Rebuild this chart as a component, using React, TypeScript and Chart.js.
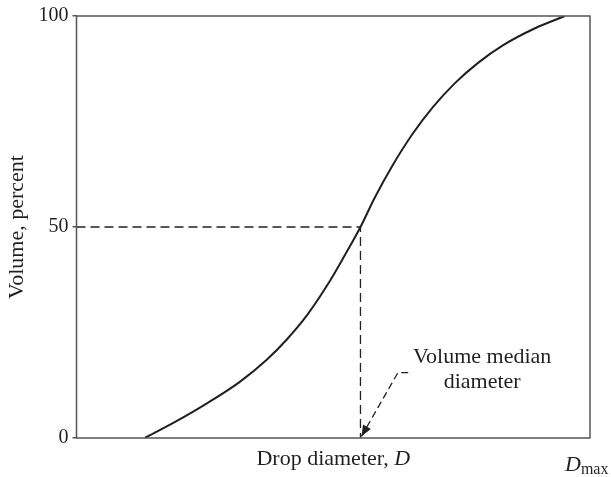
import React, { useEffect, useRef } from "react";
import { Chart, registerables } from "chart.js";

Chart.register(...registerables);

// Cumulative volume curve (x: drop diameter, 0..100 of axis width; y: volume percent)
const curveX = [13.3, 19.2, 25.4, 31.8, 37.1, 41.0, 44.9, 49.4, 52.3, 55.3, 58.1, 61.6, 65.3, 69.4, 73.7, 78.2, 83.1, 89.3, 95.1];
const curveY = [0, 3.8, 8.2, 13.3, 18.6, 23.4, 29.1, 37.3, 43.4, 50.0, 57.0, 64.7, 71.8, 78.4, 84.1, 88.9, 93.1, 97.1, 100];

// Median guide (dashed)
const medianX = [0, 55.3, 55.3];
const medianY = [50, 50, 0];

// Y ticks
const yTicks = [0, 50, 100];

// Annotation (data units)
const noteLines = ["Volume median", "diameter"];
const noteX = 79.0;
const noteY = [19.1, 13.2];
const arrowX = [64.6, 62.6, 55.5];
const arrowY = [15.5, 15.5, 0.4];

const xTitleMain = "Drop diameter, ";
const xTitleItalic = "D";
const dmaxMain = "D";
const dmaxSub = "max";
const yTitle = "Volume, percent";

const FONT = "'Liberation Serif', 'DejaVu Serif', serif";
const INK = "#231f20";

const decorPlugin = {
  id: "decor",
  afterDatasetsDraw(chart: any) {
    const { ctx, chartArea, scales } = chart;
    const xs = scales.x;
    const ys = scales.y;
    ctx.save();
    // frame
    ctx.strokeStyle = "#555";
    ctx.lineWidth = 1.5;
    ctx.strokeRect(chartArea.left, chartArea.top, chartArea.right - chartArea.left, chartArea.bottom - chartArea.top);

    // annotation text
    ctx.fillStyle = INK;
    ctx.font = `22px ${FONT}`;
    ctx.textAlign = "center";
    ctx.textBaseline = "middle";
    noteLines.forEach((t, i) => {
      ctx.fillText(t, xs.getPixelForValue(noteX), ys.getPixelForValue(noteY[i]));
    });

    // arrow (dashed)
    const px = arrowX.map((v) => xs.getPixelForValue(v));
    const py = arrowY.map((v) => ys.getPixelForValue(v));
    ctx.strokeStyle = INK;
    ctx.lineWidth = 1.3;
    ctx.setLineDash([7, 4]);
    ctx.beginPath();
    ctx.moveTo(px[0], py[0]);
    for (let i = 1; i < px.length; i++) ctx.lineTo(px[i], py[i]);
    ctx.stroke();
    ctx.setLineDash([]);
    // arrow head
    const n = px.length - 1;
    const ang = Math.atan2(py[n] - py[n - 1], px[n] - px[n - 1]);
    const L = 11, W = 4.5;
    const bx = px[n] - L * Math.cos(ang);
    const by = py[n] - L * Math.sin(ang);
    ctx.fillStyle = INK;
    ctx.beginPath();
    ctx.moveTo(px[n], py[n]);
    ctx.lineTo(bx + W * Math.sin(ang), by - W * Math.cos(ang));
    ctx.lineTo(bx - W * Math.sin(ang), by + W * Math.cos(ang));
    ctx.closePath();
    ctx.fill();

    // x title
    const cx = (chartArea.left + chartArea.right) / 2;
    const ty = chartArea.bottom + 21;
    ctx.font = `22px ${FONT}`;
    const w1 = ctx.measureText(xTitleMain).width;
    ctx.font = `italic 22px ${FONT}`;
    const w2 = ctx.measureText(xTitleItalic).width;
    const sx = cx - (w1 + w2) / 2;
    ctx.textAlign = "left";
    ctx.font = `22px ${FONT}`;
    ctx.fillText(xTitleMain, sx, ty);
    ctx.font = `italic 22px ${FONT}`;
    ctx.fillText(xTitleItalic, sx + w1, ty);

    // D_max
    const dx = chartArea.right - 25;
    const dy = chartArea.bottom + 27;
    ctx.font = `italic 22px ${FONT}`;
    ctx.fillText(dmaxMain, dx, dy);
    const wd = ctx.measureText(dmaxMain).width;
    ctx.font = `16px ${FONT}`;
    ctx.fillText(dmaxSub, dx + wd, dy + 5);
    ctx.restore();
  },
};

export default function App() {
  const ref = useRef<HTMLCanvasElement>(null);
  useEffect(() => {
    document.body.style.margin = "0";
    const curve = curveX.map((x, i) => ({ x, y: curveY[i] }));
    const median = medianX.map((x, i) => ({ x, y: medianY[i] }));
    const chart = new Chart(ref.current as HTMLCanvasElement, {
      type: "line",
      data: {
        datasets: [
          {
            data: curve,
            borderColor: INK,
            borderWidth: 2,
            pointRadius: 0,
            cubicInterpolationMode: "monotone",
            fill: false,
          },
          {
            data: median,
            borderColor: INK,
            borderWidth: 1.3,
            borderDash: [9, 5],
            pointRadius: 0,
            tension: 0,
            fill: false,
          },
        ],
      },
      options: {
        animation: false,
        responsive: true,
        maintainAspectRatio: false,
        layout: { padding: { top: 13.5, right: 21, bottom: 39, left: 0 } },
        plugins: { legend: { display: false }, tooltip: { enabled: false } },
        scales: {
          x: { type: "linear", min: 0, max: 100, display: false },
          y: {
            type: "linear",
            min: 0,
            max: 100,
            afterFit: (s: any) => {
              s.width = 76.5;
            },
            afterBuildTicks: (s: any) => {
              s.ticks = yTicks.map((v) => ({ value: v }));
            },
            ticks: {
              color: INK,
              padding: 4,
              font: { family: FONT, size: 20 },
            },
            grid: { drawOnChartArea: false, tickLength: 4, color: "#555", lineWidth: 1.5 },
            border: { display: false },
            title: {
              display: true,
              text: yTitle,
              color: INK,
              font: { family: FONT, size: 22 },
              padding: { top: 4, bottom: 0 },
            },
          },
        },
      },
      plugins: [decorPlugin],
    });
    return () => chart.destroy();
  }, []);
  return (
    <div style={{ width: 611, height: 477, position: "relative" }}>
      <canvas ref={ref} />
    </div>
  );
}
